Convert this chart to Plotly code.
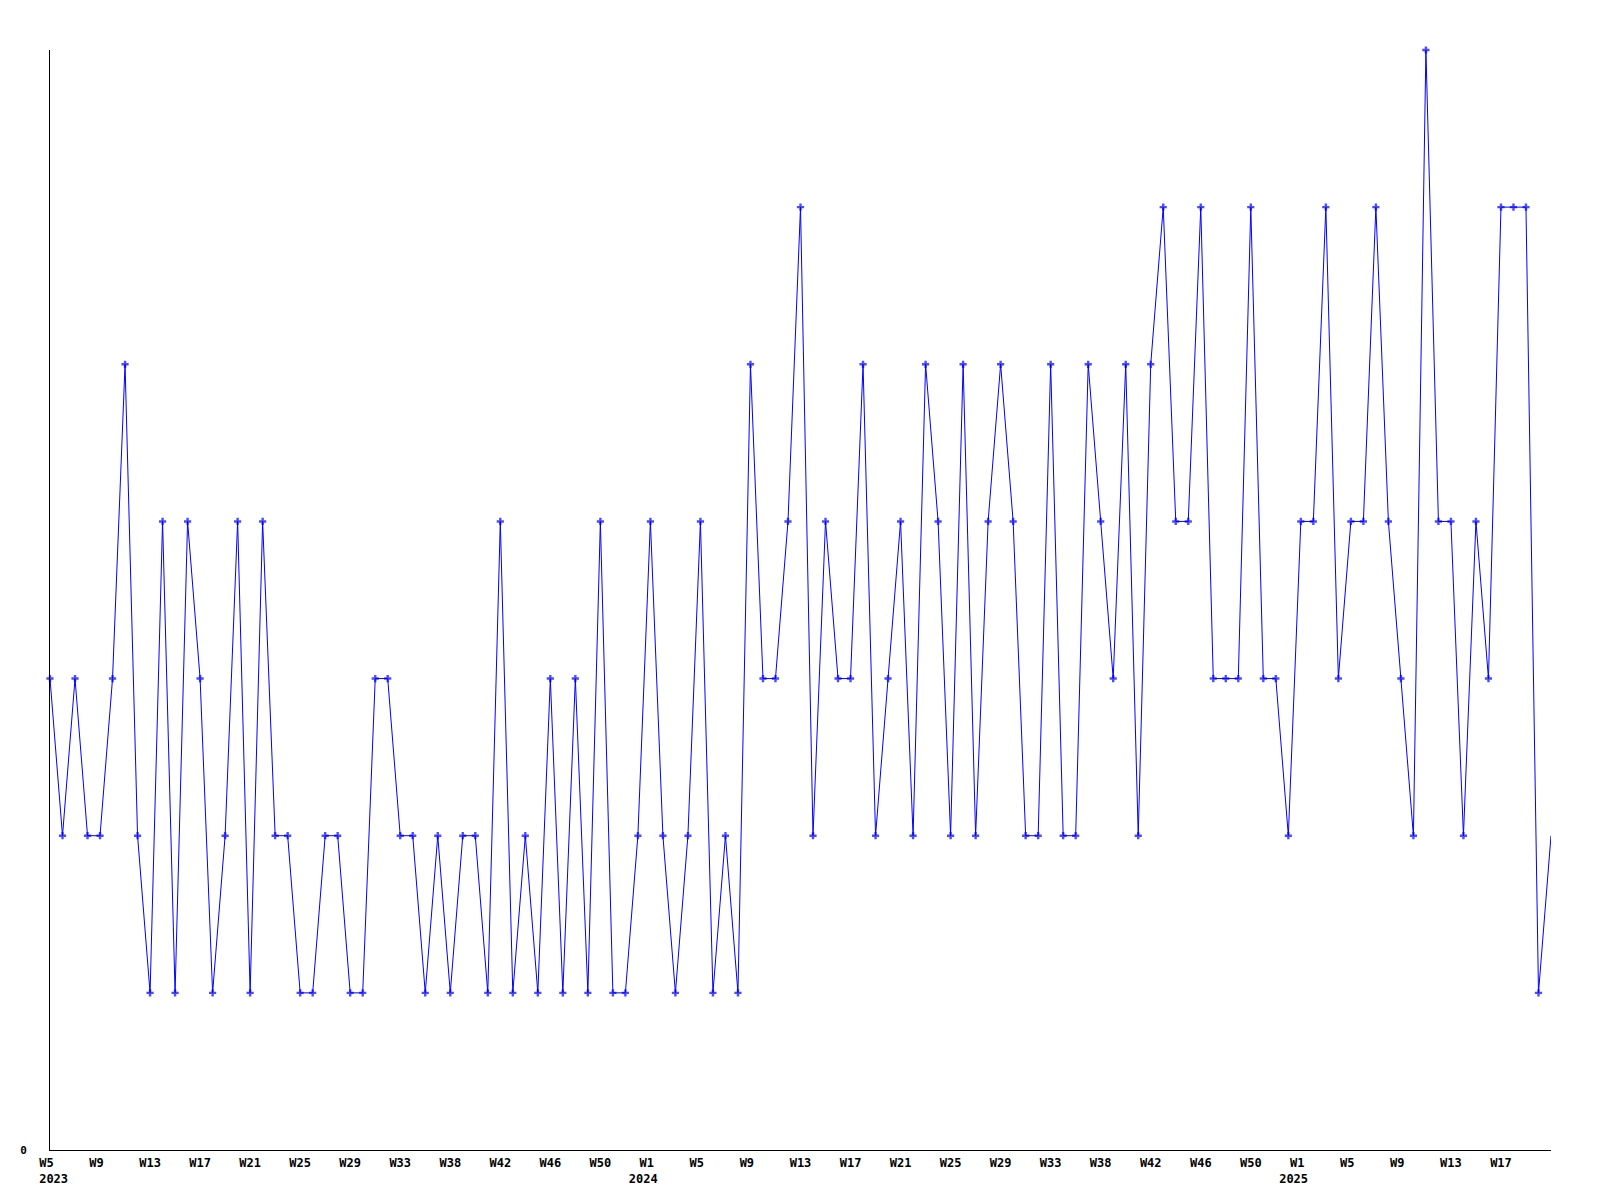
import plotly.graph_objects as go

values = [3, 2, 3, 2, 2, 3, 5, 2, 1, 4,
          1, 4, 3, 1, 2, 4, 1, 4, 2, 2,
          1, 1, 2, 2, 1, 1, 3, 3, 2, 2,
          1, 2, 1, 2, 2, 1, 4, 1, 2, 1,
          3, 1, 3, 1, 4, 1, 1, 2, 4, 2,
          1, 2, 4, 1, 2, 1, 5, 3, 3, 4,
          6, 2, 4, 3, 3, 5, 2, 3, 4, 2,
          5, 4, 2, 5, 2, 4, 5, 4, 2, 2,
          5, 2, 2, 5, 4, 3, 5, 2, 5, 6,
          4, 4, 6, 3, 3, 3, 6, 3, 3, 2,
          4, 4, 6, 3, 4, 4, 6, 4, 3, 2,
          7, 4, 4, 2, 4, 3, 6, 6, 6, 1,
          2]

week_labels = ["W5", "W9", "W13", "W17", "W21", "W25", "W29", "W33", "W38", "W42",
               "W46", "W50", "W1", "W5", "W9", "W13", "W17", "W21", "W25", "W29",
               "W33", "W38", "W42", "W46", "W50", "W1", "W5", "W9", "W13", "W17"]
year_labels = {0: "\u00a02023", 12: "2024\u00a0\u00a0", 25: "2025\u00a0\u00a0"}

NB = "\u00a0"
tick_text = []
for i, w in enumerate(week_labels):
    t = w + (NB if len(w) == 2 else "")
    if i in year_labels:
        t += "<br>" + year_labels[i]
    tick_text.append(t)

x = list(range(len(values)))
tick_pos = list(range(0, 4 * len(week_labels), 4))
msize = [6] * (len(values) - 1) + [0]

fig = go.Figure()
fig.add_trace(go.Scatter(
    x=x, y=values, mode="lines+markers",
    line=dict(color="#0000ff", width=1),
    marker=dict(symbol="cross", size=msize, color="#0000ff", line=dict(width=0)),
    cliponaxis=False, showlegend=False, hoverinfo="x+y",
))

font = dict(family="DejaVu Sans Mono", size=12, color="#000000", weight="bold")
yfont = dict(family="DejaVu Sans Mono", size=11, color="#000000", weight="bold")

fig.update_layout(
    width=1600, height=1200,
    margin=dict(l=50, r=49, t=50, b=50),
    paper_bgcolor="#ffffff", plot_bgcolor="#ffffff",
    showlegend=False,
    xaxis=dict(
        range=[0, len(values) - 1],
        tickmode="array", tickvals=tick_pos, ticktext=tick_text,
        showgrid=False, zeroline=False, showline=True, linecolor="#000000", linewidth=1,
        ticks="", tickfont=font, tickangle=0, ticklabelstandoff=2,
    ),
    yaxis=dict(
        range=[0, 7],
        tickmode="array", tickvals=[0], ticktext=["0"],
        showgrid=False, zeroline=False, showline=True, linecolor="#000000", linewidth=1,
        ticks="", tickfont=yfont, ticklabelstandoff=20,
    ),
)

fig.write_html("out.html", config={"displayModeBar": False},
               post_script="document.body.style.margin='0';document.body.style.overflow='hidden';")
